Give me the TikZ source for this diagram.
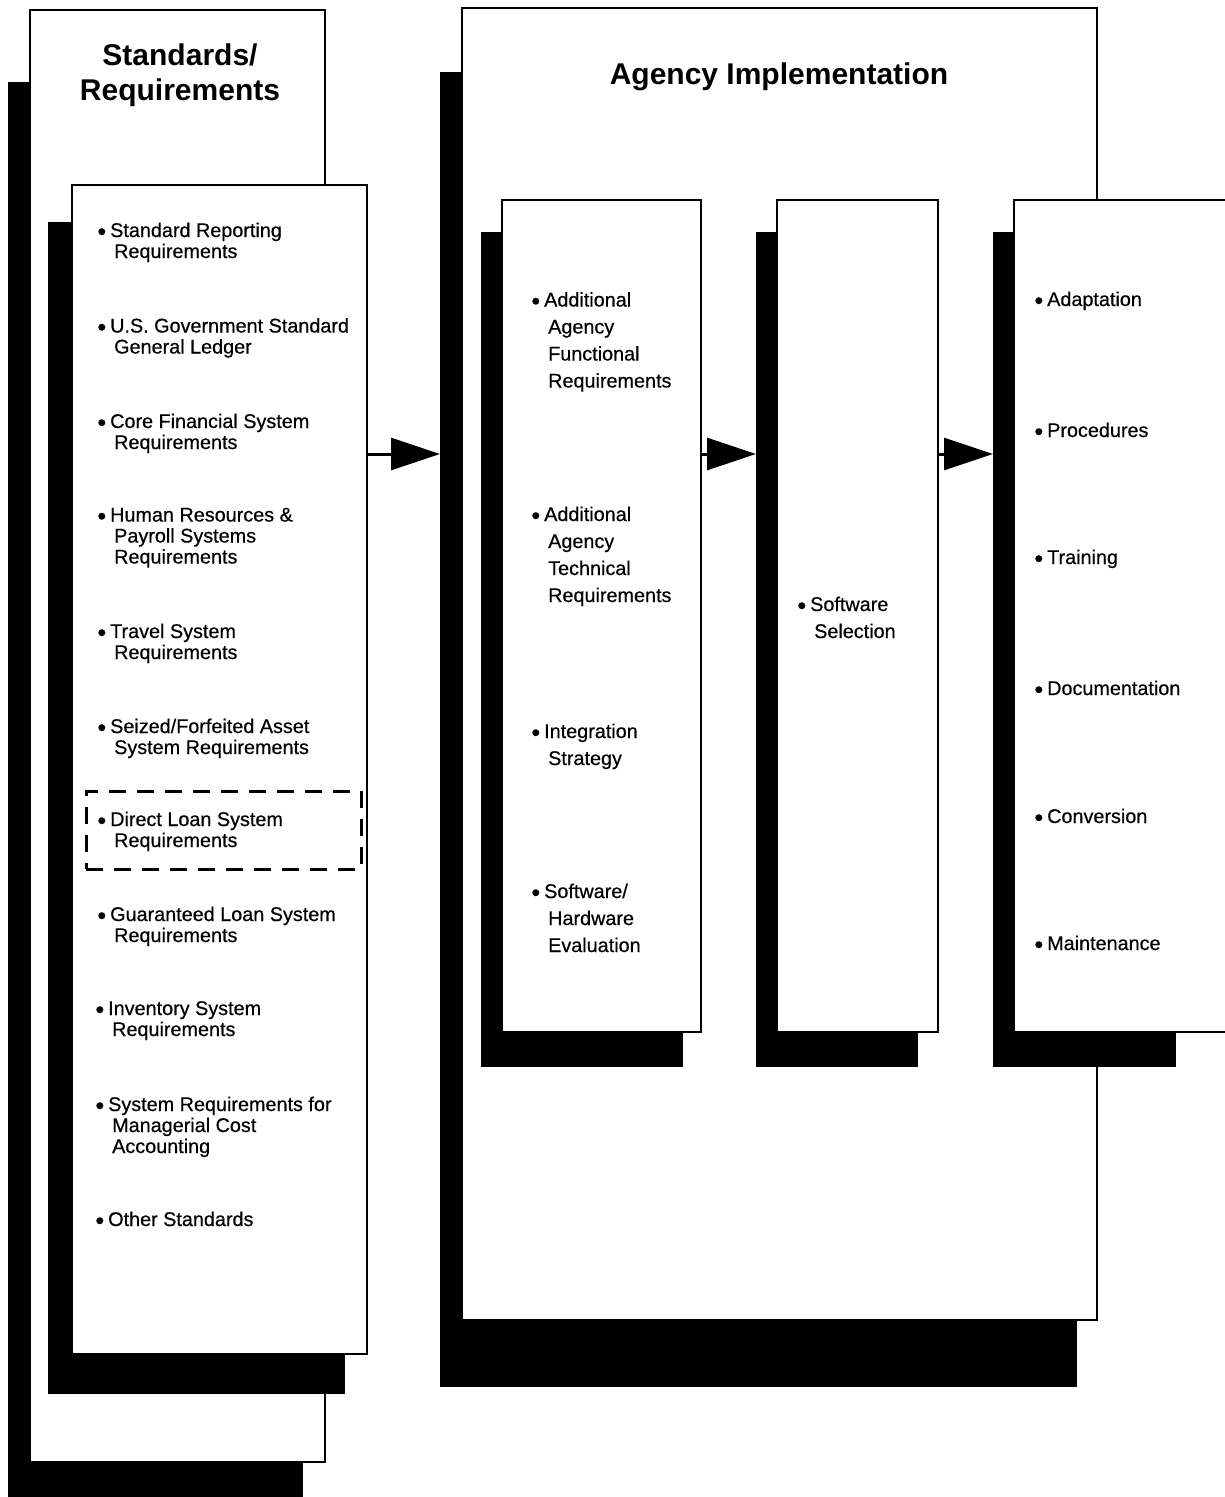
\documentclass[tikz,border=0pt]{standalone}
\usepackage{fontspec}
\setmainfont{Liberation Sans}[UprightFeatures={FakeBold=0.5}]
\usetikzlibrary{arrows.meta}
\newcommand\bul{\llap{\raisebox{-3pt}{\fontsize{25}{25}\selectfont\textbullet}\hspace{4pt}}}
\newcommand\ind{\hspace*{4pt}}
\newcommand\lns[1]{\begin{tabular}[t]{@{}l@{}}#1\end{tabular}}
\begin{document}
\begin{tikzpicture}[x=1pt,y=-1pt,
  shad/.style={fill=black,draw=none,inner sep=0pt,outer sep=0pt,anchor=north west},
  panel/.style={fill=white,draw=black,line width=2.5pt,inner sep=0pt,outer sep=0pt,anchor=north west},
  dashbox/.style={draw=black,line width=3pt,dash pattern=on 17pt off 11pt,inner sep=0pt,outer sep=0pt,anchor=north west},
  arr/.style={line width=3pt,-{Triangle[length=49pt,width=32pt]}},
  title/.style={font=\bfseries\fontsize{30}{35}\selectfont,inner sep=0pt,anchor=base,align=center},
  itemL/.style={font=\fontsize{19.8}{21}\selectfont,inner sep=0pt,anchor=base west},
  itemR/.style={font=\fontsize{19.8}{27}\selectfont,inner sep=0pt,anchor=base west},
]
\useasboundingbox (0,0) rectangle (1225,1497);
\clip (0,0) rectangle (1225,1497);
\fill[white] (0,0) rectangle (1225,1497);

% Standards / Requirements
\node[shad,minimum width=295pt,minimum height=1450pt] (stdsh) at (8,82) {};
\node[panel,minimum width=295pt,minimum height=1452pt] (std) at (30,10) {};
\node[shad,minimum width=297pt,minimum height=1172pt] (lstsh) at (48,222) {};
\node[panel,minimum width=295pt,minimum height=1169pt] (lst) at (72,185) {};
\node[dashbox,minimum width=275pt,minimum height=78pt] (dl) at (86,791) {};

% Agency implementation
\node[shad,minimum width=637pt,minimum height=1315pt] (agsh) at (440,72) {};
\node[panel,minimum width=635pt,minimum height=1312pt] (ag) at (462,8) {};
\node[shad,minimum width=202pt,minimum height=835pt] (b1sh) at (481,232) {};
\node[panel,minimum width=199pt,minimum height=832pt] (b1) at (502,200) {};
\node[shad,minimum width=162pt,minimum height=835pt] (b2sh) at (756,232) {};
\node[panel,minimum width=161pt,minimum height=832pt] (b2) at (777,200) {};
\node[shad,minimum width=183pt,minimum height=835pt] (b3sh) at (993,232) {};
\node[panel,minimum width=260pt,minimum height=832pt] (b3) at (1014,200) {};

% arrows
\coordinate (ay) at (0,454);
\draw[arr] (lst.east |- ay) -- (agsh.west |- ay);
\draw[arr] (b1.east |- ay) -- (b2sh.west |- ay);
\draw[arr] (b2.east |- ay) -- (b3sh.west |- ay);

% titles
\node[title] (t1) at (180,65) {\lns{\hfill Standards/\hfill\null\\Requirements}};
\node[title] (t2) at (779,84) {Agency Implementation};

% left list
\node[itemL] (l1) at (110,237) {\lns{\bul Standard Reporting\\\ind Requirements}};
\node[itemL] (l2) at (110,332.5) {\lns{\bul U.S. Government Standard\\\ind General Ledger}};
\node[itemL] (l3) at (110,428) {\lns{\bul Core Financial System\\\ind Requirements}};
\node[itemL] (l4) at (110,521.5) {\lns{\bul Human Resources \&\\\ind Payroll Systems\\\ind Requirements}};
\node[itemL] (l5) at (110,638) {\lns{\bul Travel System\\\ind Requirements}};
\node[itemL] (l6) at (110,733) {\lns{\bul Seized/Forfeited Asset\\\ind System Requirements}};
\node[itemL] (l7) at (110,826) {\lns{\bul Direct Loan System\\\ind Requirements}};
\node[itemL] (l8) at (110,921) {\lns{\bul Guaranteed Loan System\\\ind Requirements}};
\node[itemL] (l9) at (108,1015) {\lns{\bul Inventory System\\\ind Requirements}};
\node[itemL] (l10) at (108,1111) {\lns{\bul System Requirements for\\\ind Managerial Cost\\\ind Accounting}};
\node[itemL] (l11) at (108,1226) {\lns{\bul Other Standards}};

% box 1
\node[itemR] (a1) at (544,306.5) {\lns{\bul Additional\\\ind Agency\\\ind Functional\\\ind Requirements}};
\node[itemR] (a2) at (544,521) {\lns{\bul Additional\\\ind Agency\\\ind Technical\\\ind Requirements}};
\node[itemR] (a3) at (544,738) {\lns{\bul Integration\\\ind Strategy}};
\node[itemR] (a4) at (544,898) {\lns{\bul Software/\\\ind Hardware\\\ind Evaluation}};

% box 2
\node[itemR] (s1) at (810,611) {\lns{\bul Software\\\ind Selection}};

% box 3
\node[itemR] (c1) at (1047,306) {\lns{\bul Adaptation}};
\node[itemR] (c2) at (1047,437) {\lns{\bul Procedures}};
\node[itemR] (c3) at (1047,564) {\lns{\bul Training}};
\node[itemR] (c4) at (1047,695) {\lns{\bul Documentation}};
\node[itemR] (c5) at (1047,823) {\lns{\bul Conversion}};
\node[itemR] (c6) at (1047,950) {\lns{\bul Maintenance}};
\end{tikzpicture}
\end{document}
